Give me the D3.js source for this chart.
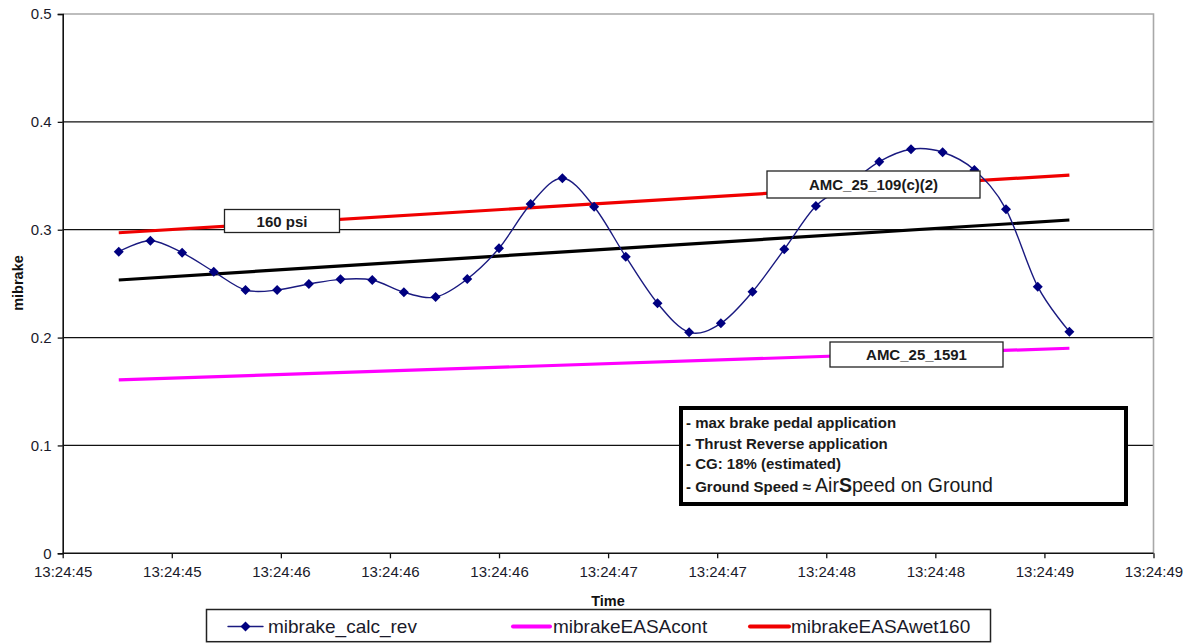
<!DOCTYPE html>
<html><head><meta charset="utf-8">
<script src="https://cdn.jsdelivr.net/npm/d3@7"></script>
<style>
body{margin:0;background:#fff;}
svg{display:block;font-family:"Liberation Sans",Arial,sans-serif;}
</style>
</head><body>
<svg id="chart" width="1195" height="643"></svg>
<script>
// ---------- data ----------
const xTickPos = [0,1,2,3,4,5,6,7,8,9,10];
const xTickLabels = ["13:24:45","13:24:45","13:24:46","13:24:46","13:24:46","13:24:47","13:24:47","13:24:48","13:24:48","13:24:49","13:24:49"];
const yTicks = [0,0.1,0.2,0.3,0.4,0.5];
const yTickLabels = ["0","0.1","0.2","0.3","0.4","0.5"];
const sampleT = [0.514,0.804,1.095,1.385,1.676,1.966,2.257,2.547,2.838,3.128,3.419,3.709,4.000,4.290,4.581,4.872,5.162,5.453,5.743,6.034,6.324,6.615,6.905,7.196,7.486,7.777,8.067,8.358,8.648,8.939,9.229];
const mibrakeCalcRev = [0.2796,0.2898,0.2787,0.2611,0.2441,0.2441,0.2497,0.2540,0.2534,0.2420,0.2376,0.2543,0.2828,0.3238,0.3477,0.3213,0.2750,0.2318,0.2049,0.2132,0.2425,0.2818,0.3220,0.3415,0.3631,0.3746,0.3718,0.3554,0.3189,0.2472,0.2055];
const lineT = [0.514, 9.229];
const mibrakeEASAcont = [0.1607, 0.1901];
const mibrakeEASAwet160 = [0.2972, 0.3507];
const trendLine = [0.2534, 0.3090];
const seriesNames = ["mibrake_calc_rev","mibrakeEASAcont","mibrakeEASAwet160"];
const boxLabels = ["160 psi","AMC_25_109(c)(2)","AMC_25_1591"];
const noteLines = ["- max brake pedal application","- Thrust Reverse application","- CG: 18% (estimated)"];
const noteLast = ["- Ground Speed \u2248 ","Air","S","peed on Ground"];
const xTitle = "Time", yTitle = "mibrake";

// ---------- layout ----------
const svg = d3.select("#chart");
const x = d3.scaleLinear().domain([0,10]).range([62.7,1153.5]);
const y = d3.scaleLinear().domain([0,0.5]).range([553.3,14]);
const ink = "#111";

// gridlines
svg.append("g").selectAll("line").data(yTicks.filter(d=>d>0 && d<0.5)).join("line")
  .attr("x1",x(0)).attr("x2",x(10)).attr("y1",d=>y(d)).attr("y2",d=>y(d))
  .attr("stroke",ink).attr("stroke-width",1.3);
// plot border top/right (gray)
svg.append("path").attr("d",`M${x(0)},${y(0.5)}H${x(10)}V${y(0)}`)
  .attr("fill","none").attr("stroke","#a8a8a8").attr("stroke-width",1.6);

// axes
const yAxis = d3.axisLeft(y).tickValues(yTicks).tickSize(5).tickPadding(6)
  .tickFormat((d,i)=>yTickLabels[i]);
const gy = svg.append("g").attr("transform",`translate(${x(0)},0)`).call(yAxis);
const xAxis = d3.axisBottom(x).tickValues(xTickPos).tickSize(5).tickPadding(8)
  .tickFormat((d,i)=>xTickLabels[i]);
const gx = svg.append("g").attr("transform",`translate(0,${y(0)})`).call(xAxis);
[gx,gy].forEach(g=>{
  g.select(".domain").attr("stroke",ink).attr("stroke-width",1.6);
  g.selectAll(".tick line").attr("stroke",ink).attr("stroke-width",1.3);
  g.selectAll(".tick text").attr("fill","#1a1a2a").style("font-size","15px")
   .style("font-family",'"Liberation Sans",Arial,sans-serif');
});
gx.select(".domain").attr("d",`M${x(0)},0H${x(10)}`);

// axis titles
svg.append("text").attr("x",608).attr("y",605.5).attr("text-anchor","middle")
  .style("font-size","14.5px").style("font-weight","bold").attr("fill",ink).text(xTitle);
svg.append("text").attr("transform","translate(23.3,283) rotate(-90)").attr("text-anchor","middle")
  .style("font-size","14.5px").style("font-weight","bold").attr("fill",ink).text(yTitle);

// straight reference lines
const straight = d3.line().x((d,i)=>x(lineT[i])).y(d=>y(d));
svg.append("path").attr("d",straight(mibrakeEASAcont)).attr("fill","none")
  .attr("stroke","#ff00ff").attr("stroke-width",3.2);
svg.append("path").attr("d",straight(trendLine)).attr("fill","none")
  .attr("stroke","#000").attr("stroke-width",3.2);
svg.append("path").attr("d",straight(mibrakeEASAwet160)).attr("fill","none")
  .attr("stroke","#f00000").attr("stroke-width",3.2);

// smoothed measured series
const smooth = d3.line().x((d,i)=>x(sampleT[i])).y(d=>y(d)).curve(d3.curveCardinal.tension(0));
svg.append("path").attr("d",smooth(mibrakeCalcRev)).attr("fill","none")
  .attr("stroke","#1a1a80").attr("stroke-width",1.4);
const diamond = {draw(ctx,size){const r=Math.sqrt(size)/Math.SQRT2;
  ctx.moveTo(0,-r);ctx.lineTo(r,0);ctx.lineTo(0,r);ctx.lineTo(-r,0);ctx.closePath();}};
svg.append("g").selectAll("path").data(mibrakeCalcRev).join("path")
  .attr("transform",(d,i)=>`translate(${x(sampleT[i])},${y(d)})`)
  .attr("d",d3.symbol().type(diamond).size(50)).attr("fill","#000080");

// label boxes
const boxes = [
  {t:boxLabels[0], x0:224.5, x1:339.5, y0:209.5, y1:232.5},
  {t:boxLabels[1], x0:767, x1:980, y0:171, y1:198},
  {t:boxLabels[2], x0:830, x1:1003, y0:342, y1:367}
];
const bg = svg.append("g").selectAll("g").data(boxes).join("g");
bg.append("rect").attr("x",d=>d.x0).attr("y",d=>d.y0).attr("width",d=>d.x1-d.x0)
  .attr("height",d=>d.y1-d.y0).attr("fill","#fff").attr("stroke","#222").attr("stroke-width",1.3);
bg.append("text").attr("x",d=>(d.x0+d.x1)/2).attr("y",d=>(d.y0+d.y1)/2+5.5)
  .attr("text-anchor","middle").style("font-size","15px").style("font-weight","bold")
  .attr("fill","#1a1a1a").text(d=>d.t);

// note box
svg.append("rect").attr("x",681).attr("y",408).attr("width",445).attr("height",96)
  .attr("fill","#fff").attr("stroke","#000").attr("stroke-width",4);
const noteY = [428.3,449,469.3];
svg.append("g").selectAll("text").data(noteLines).join("text")
  .attr("x",686).attr("y",(d,i)=>noteY[i]).style("font-size","15px").style("font-weight","bold")
  .attr("fill","#1a1a1a").text(d=>d);
const last = svg.append("text").attr("x",686).attr("y",492.3).attr("fill","#1a1a1a");
last.append("tspan").style("font-size","15px").style("font-weight","bold").text(noteLast[0]);
last.append("tspan").style("font-size","19.5px").text(noteLast[1]);
last.append("tspan").style("font-size","19.5px").style("font-weight","bold").text(noteLast[2]);
last.append("tspan").style("font-size","19.5px").text(noteLast[3]);

// legend
svg.append("rect").attr("x",206.5).attr("y",609.5).attr("width",784).attr("height",32.2)
  .attr("fill","#fff").attr("stroke","#222").attr("stroke-width",1.5);
const legendItems = [
  {name:seriesNames[0], color:"#1a1a80", w:1.4, lx0:228, lx1:263, tx:268, marker:true},
  {name:seriesNames[1], color:"#ff00ff", w:4, lx0:513, lx1:550, tx:553, marker:false},
  {name:seriesNames[2], color:"#f00000", w:4, lx0:750, lx1:789, tx:791, marker:false}
];
const lg = svg.append("g").selectAll("g").data(legendItems).join("g");
lg.append("line").attr("x1",d=>d.lx0).attr("x2",d=>d.lx1).attr("y1",626.5).attr("y2",626.5)
  .attr("stroke",d=>d.color).attr("stroke-width",d=>d.w).attr("stroke-linecap","round");
lg.filter(d=>d.marker).append("path")
  .attr("transform",d=>`translate(${(d.lx0+d.lx1)/2},626.5)`)
  .attr("d",d3.symbol().type(diamond).size(50)).attr("fill","#000080");
lg.append("text").attr("x",d=>d.tx).attr("y",633.3).style("font-size","19px")
  .attr("fill","#1a1a2a").text(d=>d.name);
</script>
</body></html>
